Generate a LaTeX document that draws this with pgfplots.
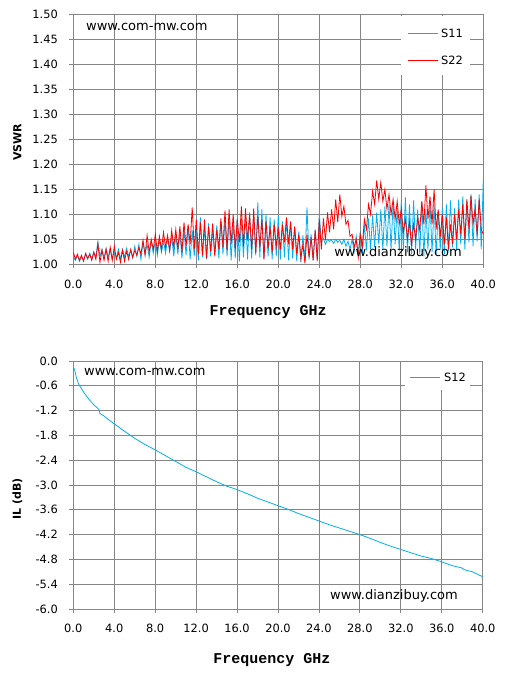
\documentclass[border=0pt]{standalone}
\usepackage{fontspec}
\setmainfont{DejaVu Sans}
\newfontfamily\axlabfont{Liberation Mono}
\usepackage{pgfplots}
\usepackage{pgfplotstable}
\pgfplotsset{compat=1.18}
\definecolor{gridgray}{RGB}{134,134,134}
\definecolor{sblue}{RGB}{0,176,240}
\definecolor{sred}{RGB}{255,0,0}

\pgfplotstableread{
f s11 s22
0.0 1.015 1.025
0.2 1.008 1.010
0.4 1.018 1.020
0.6 1.006 1.008
0.8 1.014 1.018
1.0 1.008 1.006
1.2 1.020 1.022
1.4 1.010 1.012
1.6 1.022 1.020
1.8 1.012 1.008
2.0 1.025 1.024
2.2 1.014 1.010
2.4 1.046 1.040
2.6 1.016 1.004
2.8 1.030 1.028
3.0 1.012 1.008
3.2 1.032 1.030
3.4 1.014 1.006
3.6 1.030 1.034
3.8 1.010 1.008
4.0 1.028 1.036
4.2 1.012 1.010
4.4 1.030 1.024
4.6 1.010 1.004
4.8 1.030 1.028
5.0 1.014 1.006
5.2 1.032 1.026
5.4 1.016 1.010
5.6 1.028 1.030
5.8 1.012 1.014
6.0 1.036 1.028
6.2 1.016 1.018
6.4 1.040 1.034
6.6 1.010 1.020
6.8 1.044 1.048
7.0 1.020 1.018
7.2 1.040 1.058
7.4 1.014 1.024
7.6 1.046 1.050
7.8 1.022 1.030
8.0 1.048 1.060
8.2 1.018 1.026
8.4 1.050 1.056
8.6 1.024 1.030
8.8 1.046 1.064
9.0 1.022 1.034
9.2 1.052 1.058
9.4 1.026 1.028
9.6 1.056 1.068
9.8 1.016 1.034
10.0 1.060 1.070
10.2 1.020 1.030
10.4 1.064 1.076
10.6 1.012 1.024
10.8 1.070 1.084
11.0 1.018 1.036
11.2 1.076 1.080
11.4 1.010 1.040
11.6 1.068 1.114
11.8 1.016 1.030
12.0 1.080 1.090
12.2 1.008 1.020
12.4 1.094 1.084
12.6 1.014 1.018
12.8 1.074 1.090
13.0 1.010 1.012
13.2 1.082 1.076
13.4 1.016 1.026
13.6 1.068 1.082
13.8 1.022 1.016
14.0 1.078 1.070
14.2 1.012 1.030
14.4 1.086 1.092
14.6 1.020 1.034
14.8 1.090 1.108
15.0 1.016 1.028
15.2 1.094 1.110
15.4 1.008 1.040
15.6 1.084 1.100
15.8 1.012 1.030
16.0 1.096 1.090
16.2 1.006 1.044
16.4 1.092 1.116
16.6 1.014 1.036
16.8 1.100 1.112
17.0 1.010 1.048
17.2 1.104 1.100
17.4 1.012 1.030
17.6 1.096 1.112
17.8 1.018 1.022
18.0 1.124 1.096
18.2 1.014 1.034
18.4 1.110 1.090
18.6 1.010 1.010
18.8 1.100 1.086
19.0 1.016 1.032
19.2 1.094 1.074
19.4 1.010 1.024
19.6 1.090 1.080
19.8 1.016 1.036
20.0 1.098 1.070
20.2 1.010 1.030
20.4 1.086 1.080
20.6 1.014 1.044
20.8 1.092 1.094
21.0 1.008 1.040
21.2 1.084 1.086
21.4 1.012 1.030
21.6 1.074 1.076
21.8 1.006 1.020
22.0 1.066 1.060
22.2 1.004 1.012
22.4 1.058 1.040
22.6 1.006 1.002
22.8 1.114 1.060
23.0 1.010 1.014
23.2 1.060 1.054
23.4 1.008 1.008
23.6 1.070 1.068
23.8 1.012 1.006
24.0 1.100 1.090
24.2 1.046 1.030
24.4 1.052 1.092
24.6 1.040 1.048
24.8 1.050 1.104
25.0 1.046 1.064
25.2 1.048 1.110
25.4 1.042 1.070
25.6 1.050 1.130
25.8 1.044 1.084
26.0 1.048 1.140
26.2 1.040 1.096
26.4 1.050 1.116
26.6 1.036 1.080
26.8 1.046 1.088
27.0 1.030 1.056
27.2 1.050 1.060
27.4 1.026 1.034
27.6 1.056 1.050
27.8 1.020 1.014
28.0 1.066 1.060
28.2 1.022 1.036
28.4 1.080 1.090
28.6 1.028 1.070
28.8 1.092 1.120
29.0 1.030 1.100
29.2 1.098 1.146
29.4 1.034 1.120
29.6 1.104 1.168
29.8 1.040 1.130
30.0 1.110 1.164
30.2 1.030 1.126
30.4 1.116 1.150
30.6 1.036 1.110
30.8 1.120 1.140
31.0 1.030 1.100
31.2 1.124 1.130
31.4 1.040 1.090
31.6 1.112 1.126
31.8 1.026 1.080
32.0 1.128 1.110
32.2 1.030 1.064
32.4 1.134 1.090
32.6 1.024 1.050
32.8 1.120 1.084
33.0 1.020 1.036
33.2 1.128 1.080
33.4 1.030 1.050
33.6 1.110 1.094
33.8 1.020 1.068
34.0 1.126 1.126
34.2 1.016 1.080
34.4 1.110 1.158
34.6 1.030 1.090
34.8 1.124 1.136
35.0 1.024 1.080
35.2 1.118 1.150
35.4 1.020 1.070
35.6 1.104 1.110
35.8 1.030 1.054
36.0 1.112 1.100
36.2 1.020 1.040
36.4 1.120 1.094
36.6 1.026 1.030
36.8 1.128 1.080
37.0 1.034 1.040
37.2 1.112 1.100
37.4 1.028 1.050
37.6 1.130 1.110
37.8 1.040 1.060
38.0 1.136 1.120
38.2 1.030 1.050
38.4 1.126 1.130
38.6 1.044 1.070
38.8 1.140 1.138
39.0 1.036 1.080
39.2 1.130 1.110
39.4 1.046 1.060
39.6 1.140 1.130
39.8 1.030 1.070
40.0 1.170 1.060
}\vswrdata

\pgfplotstableread{
f s12
0.1 -0.18
0.3 -0.40
0.5 -0.55
1.0 -0.75
1.5 -0.92
2.0 -1.06
2.5 -1.17
2.6 -1.27
3.0 -1.33
3.5 -1.43
4.0 -1.52
5.0 -1.70
6.0 -1.87
7.0 -2.02
8.0 -2.15
9.0 -2.29
10.0 -2.43
11.0 -2.57
12.0 -2.68
13.0 -2.80
14.0 -2.92
15.0 -3.03
16.0 -3.11
17.0 -3.21
18.0 -3.32
19.0 -3.41
20.0 -3.50
21.0 -3.59
22.0 -3.69
23.0 -3.78
24.0 -3.87
25.0 -3.96
26.0 -4.04
27.0 -4.12
28.0 -4.20
29.0 -4.29
30.0 -4.39
31.0 -4.48
32.0 -4.56
33.0 -4.64
34.0 -4.72
35.0 -4.78
36.0 -4.86
37.0 -4.95
38.0 -5.01
38.2 -5.05
39.0 -5.10
40.0 -5.22
}\ildata

\pgfplotsset{
  common/.style={
    scale only axis,
    xmin=0, xmax=40,
    xtick={0,4,8,12,16,20,24,28,32,36,40},
    grid=major,
    grid style={gridgray, line width=0.8pt},
    axis line style={gridgray, line width=0.8pt},
    tick align=outside, major tick length=4pt,
    tick style={gridgray, line width=0.8pt},
    xtick pos=left, ytick pos=left,
    scaled ticks=false,
    /pgf/number format/assume math mode=true,
    ticklabel style={font=\fontsize{11.4}{13}\selectfont, text=black},
    xticklabel style={/pgf/number format/fixed, /pgf/number format/fixed zerofill, /pgf/number format/precision=1, yshift=-8pt},
    yticklabel style={xshift=-8pt},
    xlabel={Frequency GHz},
    xlabel style={font=\axlabfont\bfseries\fontsize{15}{17}\selectfont, anchor=center},
    ylabel style={font=\bfseries\fontsize{11}{13}\selectfont, anchor=center, rotate=0},
  }
}

\begin{document}
\begin{tikzpicture}
\useasboundingbox (0,0) rectangle (511pt,673pt);
\begin{axis}[common,
  at={(73.3pt,408.7pt)}, anchor=south west,
  width=410pt, height=250pt,
  ymin=1, ymax=1.5,
  ytick={1,1.05,1.1,1.15,1.2,1.25,1.3,1.35,1.4,1.45,1.5},
  yticklabel style={/pgf/number format/fixed, /pgf/number format/fixed zerofill, /pgf/number format/precision=2},
  xlabel style={at={([yshift=-48pt]axis description cs:0.475,0)}},
  ylabel={VSWR},
  ylabel style={at={([xshift=-56pt]axis description cs:0,0.489)}},
]
\addplot[sblue, line width=0.8pt] table[x=f, y=s11] {\vswrdata};
\addplot[sred, line width=0.8pt] table[x=f, y=s22] {\vswrdata};
% legend box
\fill[white] (rel axis cs:0.799,0.994) rectangle (rel axis cs:0.968,0.757);
\draw[sblue, line width=0.8pt] (rel axis cs:0.8156,0.924) -- (rel axis cs:0.8902,0.924);
\node[anchor=west, inner sep=0pt, font=\fontsize{11.4}{13}\selectfont] at (rel axis cs:0.8968,0.924) {S11};
\draw[sred, line width=0.8pt] (rel axis cs:0.8156,0.8144) -- (rel axis cs:0.8902,0.8144);
\node[anchor=west, inner sep=0pt, font=\fontsize{11.4}{13}\selectfont] at (rel axis cs:0.8968,0.8144) {S22};
\node[anchor=west, inner sep=0pt, font=\fontsize{13}{15}\selectfont] at (rel axis cs:0.031,0.949) {www.com-mw.com};
\node[anchor=west, inner sep=0pt, font=\fontsize{13}{15}\selectfont] at (rel axis cs:0.636,0.045) {www.dianzibuy.com};
\end{axis}

\begin{axis}[common,
  at={(73.3pt,64pt)}, anchor=south west,
  width=409.4pt, height=248pt,
  ymin=-6, ymax=0,
  ytick={0,-0.6,-1.2,-1.8,-2.4,-3,-3.6,-4.2,-4.8,-5.4,-6},
  yticklabel style={/pgf/number format/fixed, /pgf/number format/fixed zerofill, /pgf/number format/precision=1},
  xlabel style={at={([yshift=-51pt]axis description cs:0.485,0)}},
  ylabel={IL (dB)},
  ylabel style={at={([xshift=-56pt]axis description cs:0,0.444)}},
]
\addplot[sblue, line width=0.8pt] table[x=f, y=s12] {\ildata};
\fill[white] (rel axis cs:0.810,0.994) rectangle (rel axis cs:0.969,0.883);
\draw[sblue, line width=0.8pt] (rel axis cs:0.8226,0.9355) -- (rel axis cs:0.8959,0.9355);
\node[anchor=west, inner sep=0pt, font=\fontsize{11.4}{13}\selectfont] at (rel axis cs:0.9055,0.9355) {S12};
\node[anchor=west, inner sep=0pt, font=\fontsize{13}{15}\selectfont] at (rel axis cs:0.026,0.956) {www.com-mw.com};
\node[anchor=west, inner sep=0pt, font=\fontsize{13}{15}\selectfont] at (rel axis cs:0.627,0.052) {www.dianzibuy.com};
\end{axis}
\end{tikzpicture}
\end{document}
